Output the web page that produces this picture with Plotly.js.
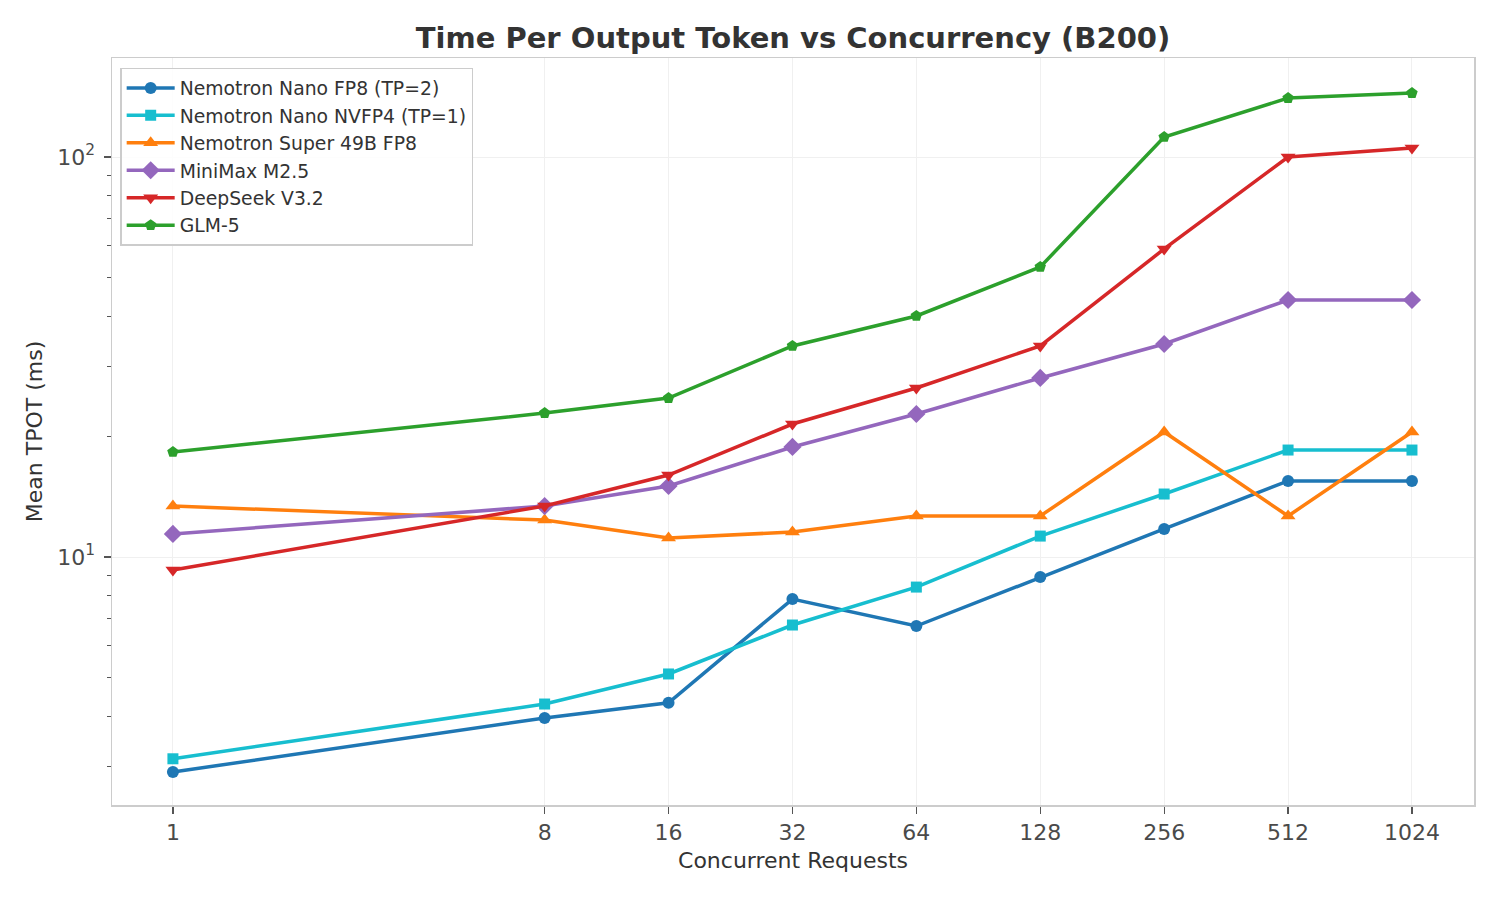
<!DOCTYPE html>
<html>
<head>
<meta charset="utf-8">
<script src="https://cdn.plot.ly/plotly-3.0.1.min.js"></script>
<style>html,body{margin:0;padding:0;background:#fff;}#chart{width:1500px;height:900px;}</style>
</head>
<body>
<div id="chart"></div>
<script>
const concurrency = [1, 8, 16, 32, 64, 128, 256, 512, 1024];
const xTickLabels = ['1', '8', '16', '32', '64', '128', '256', '512', '1024'];

const seriesNames = [
  'Nemotron Nano FP8 (TP=2)',
  'Nemotron Nano NVFP4 (TP=1)',
  'Nemotron Super 49B FP8',
  'MiniMax M2.5',
  'DeepSeek V3.2',
  'GLM-5'
];
const nanoFp8   = [2.90, 3.96, 4.32, 7.85, 6.72, 8.91, 11.75, 15.49, 15.49];
const nanoNvfp4 = [3.13, 4.29, 5.10, 6.76, 8.41, 11.28, 14.37, 18.51, 18.51];
const super49b  = [13.41, 12.37, 11.15, 11.55, 12.66, 12.66, 20.54, 12.66, 20.54];
const minimax   = [11.42, 13.41, 15.05, 18.84, 22.78, 28.03, 34.08, 43.9, 43.9];
const deepseek  = [9.28, 13.41, 16.03, 21.5, 26.45, 33.7, 58.9, 100, 105.3];
const glm5      = [18.3, 22.9, 24.97, 33.7, 40.05, 53.1, 112.2, 140.4, 144.5];

const yTickVals = [10, 100];
const yTickText = ['10<sup>1</sup>', '10<sup>2</sup>'];
const yMinorVals = [3, 4, 5, 6, 7, 8, 9, 20, 30, 40, 50, 60, 70, 80, 90];

const allValues = [nanoFp8, nanoNvfp4, super49b, minimax, deepseek, glm5];
const colors = ['#1f77b4', '#17becf', '#ff7f0e', '#9467bd', '#d62728', '#2ca02c'];
const symbols = ['circle', 'square', 'triangle-up', 'diamond', 'triangle-down', 'pentagon'];
const sizes = [12, 11, 13, 14, 13, 12];

const traces = allValues.map((vals, i) => ({
  x: concurrency,
  y: vals,
  name: seriesNames[i],
  type: 'scatter',
  mode: 'lines+markers',
  line: {color: colors[i], width: 3.5},
  marker: {color: colors[i], symbol: symbols[i], size: sizes[i]}
}));

const font = 'DejaVu Sans, sans-serif';
const layout = {
  width: 1500,
  height: 900,
  paper_bgcolor: '#ffffff',
  plot_bgcolor: '#ffffff',
  margin: {l: 112, r: 26, t: 58, b: 95},
  font: {family: font, color: '#333333', size: 16},
  title: {
    text: '<b>Time Per Output Token vs Concurrency (B200)</b>',
    font: {family: font, size: 29, color: '#333333'},
    xref: 'paper', x: 0.5, xanchor: 'center',
    yref: 'container', y: 0.958, yanchor: 'middle'
  },
  xaxis: {
    type: 'log',
    range: [-0.148, 3.161],
    tickmode: 'array',
    tickvals: concurrency,
    ticktext: xTickLabels,
    ticks: 'outside', ticklen: 7, tickcolor: '#555555', tickwidth: 1.2,
    ticklabelstandoff: 0,
    tickfont: {family: font, size: 22, color: '#4a4a4a'},
    showgrid: true, gridcolor: '#f0f0f0', gridwidth: 1,
    showline: true, linecolor: '#cccccc', linewidth: 1.5, mirror: true,
    zeroline: false,
    title: {text: 'Concurrent Requests', font: {family: font, size: 22, color: '#333333'}, standoff: 8}
  },
  yaxis: {
    type: 'log',
    range: [0.38, 2.2475],
    tickmode: 'array',
    tickvals: yTickVals,
    ticktext: yTickText,
    ticks: 'outside', ticklen: 7, tickcolor: '#555555', tickwidth: 1.2,
    ticklabelstandoff: 4,
    tickfont: {family: font, size: 22, color: '#4a4a4a'},
    showgrid: true, gridcolor: '#f0f0f0', gridwidth: 1,
    showline: true, linecolor: '#cccccc', linewidth: 1.5, mirror: true,
    zeroline: false,
    minor: {tickmode: 'array', tickvals: yMinorVals, ticks: 'outside', ticklen: 4, tickcolor: '#555555', tickwidth: 1, showgrid: false},
    title: {text: 'Mean TPOT (ms)', font: {family: font, size: 22, color: '#333333'}, standoff: 8}
  },
  showlegend: true,
  legend: {
    x: 0.006, y: 0.987, xanchor: 'left', yanchor: 'top',
    bgcolor: 'rgba(255,255,255,0.85)',
    bordercolor: '#cccccc', borderwidth: 1.5,
    font: {family: font, size: 18.8, color: '#333333'},
    tracegroupgap: 0,
    itemwidth: 48
  }
};

Plotly.newPlot('chart', traces, layout, {displayModeBar: false, staticPlot: true});
</script>
</body>
</html>
